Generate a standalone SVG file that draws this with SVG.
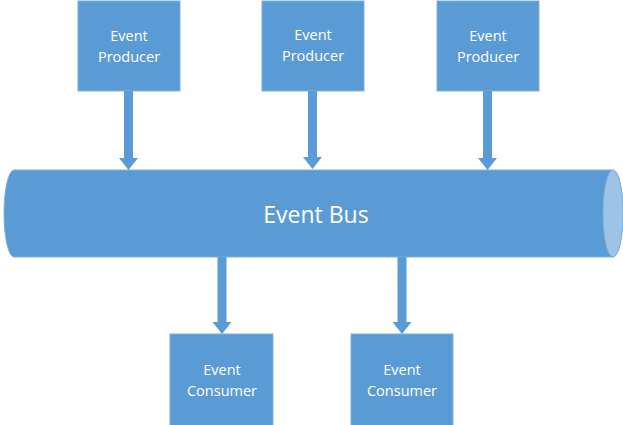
<svg xmlns="http://www.w3.org/2000/svg" width="623" height="425" viewBox="0 0 623 425">
<defs>
<style>
.box{fill:#5B9BD5;stroke:#7FB0DE;stroke-width:1}
.lbl{fill:#FFFFFF;font-family:"Open Sans","Noto Sans","DejaVu Sans",sans-serif;font-size:14.5px;text-anchor:middle}
.bus{fill:#5B9BD5;stroke:#7FB0DE;stroke-width:1}
.face{fill:#9DC3E6;stroke:#7FB0DE;stroke-width:1}
.buslbl{fill:#FFFFFF;font-family:"Open Sans","Noto Sans","DejaVu Sans",sans-serif;font-size:23px;text-anchor:middle}
.arr{fill:#5B9BD5;stroke:none}
</style>
</defs>
<rect width="623" height="425" fill="#FFFFFF"/>
<g id="bus">
<path class="bus" d="M14,170 L613,170 A10,43.5 0 0 1 613,257 L14,257 A10,43.5 0 0 1 14,170 Z"/>
<ellipse class="face" cx="613" cy="213.5" rx="10" ry="43.5"/>
<text class="buslbl" x="316" y="223">Event Bus</text>
</g>
<g id="producer1">
<rect class="box" x="78" y="1" width="102" height="90"/>
<text class="lbl" x="129" y="41">Event</text>
<text class="lbl" x="129" y="62">Producer</text>
</g>
<g id="producer2">
<rect class="box" x="262" y="1" width="102" height="90"/>
<text class="lbl" x="313" y="40">Event</text>
<text class="lbl" x="313" y="61">Producer</text>
</g>
<g id="producer3">
<rect class="box" x="437" y="1" width="102" height="90"/>
<text class="lbl" x="488" y="41">Event</text>
<text class="lbl" x="488" y="62">Producer</text>
</g>
<g id="consumer1">
<rect class="box" x="170" y="334" width="103" height="92"/>
<text class="lbl" x="222" y="375">Event</text>
<text class="lbl" x="222" y="396">Consumer</text>
</g>
<g id="consumer2">
<rect class="box" x="351" y="334" width="102" height="92"/>
<text class="lbl" x="402" y="375">Event</text>
<text class="lbl" x="402" y="396">Consumer</text>
</g>
<g id="connectors">
<path class="arr" d="M124,91 L133,91 L133,158 L138,158 L128.5,170 L119,158 L124,158 Z"/>
<path class="arr" d="M308,91 L317,91 L317,157 L322,157 L312.5,169 L303,157 L308,157 Z"/>
<path class="arr" d="M483,91 L492,91 L492,158 L497,158 L487.5,170 L478,158 L483,158 Z"/>
<path class="arr" d="M217.5,257 L226.5,257 L226.5,322 L231.5,322 L222,334 L212.5,322 L217.5,322 Z"/>
<path class="arr" d="M397.5,257 L406.5,257 L406.5,322 L411.5,322 L402,334 L392.5,322 L397.5,322 Z"/>
</g>
</svg>
